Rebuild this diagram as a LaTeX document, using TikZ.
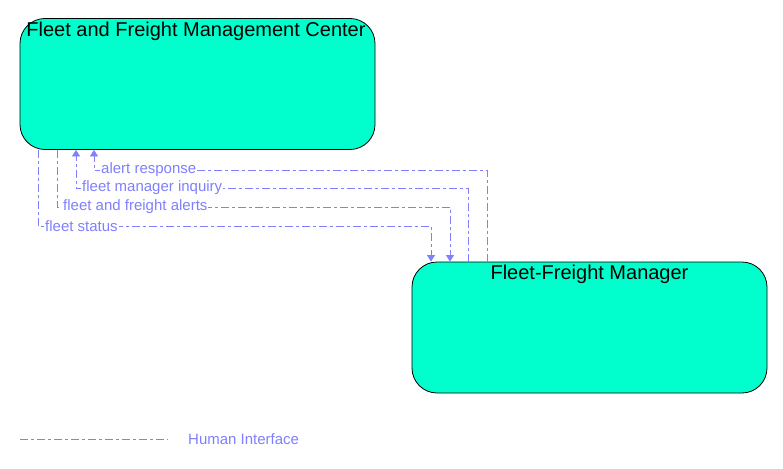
\documentclass[tikz,border=0pt]{standalone}
\usepackage{fontspec}
\setmainfont{Liberation Sans}
\usetikzlibrary{arrows.meta}
\definecolor{boxfill}{RGB}{0,255,204}
\definecolor{flowblue}{RGB}{128,128,255}
\tikzset{
  entity/.style={draw=black, line width=0.8pt, fill=boxfill, rounded corners=25pt,
    minimum width=355pt, minimum height=131pt, inner sep=0pt},
  title/.style={anchor=north, inner sep=0pt, font=\fontsize{20}{24}\selectfont},
  hiflow/.style={draw=flowblue, line width=0.7pt, dash pattern=on 8pt off 3pt on 3pt off 3pt},
  tip/.style={-{Triangle[width=8pt,length=6.5pt]}},
  flowlabel/.style={anchor=west, fill=white, inner sep=1pt, text=flowblue, font=\fontsize{15}{18}\selectfont}
}
\begin{document}
\begin{tikzpicture}[x=1pt,y=-1pt]
\useasboundingbox (0,0) rectangle (783,468);
\node[entity] (fmc) at (197.5,84) {};
\node[title] (fmct) at (196,22) {Fleet and Freight Management Center};
\node[entity] (ffm) at (589.5,327.5) {};
\node[title] (ffmt) at (589.5,265) {Fleet-Freight Manager};
% alert response
\draw[hiflow,tip] (ffm.north -| 487,0) |- (94,170) -- (fmc.south -| 94,0);
\node[flowlabel] (l1) at (100,170) {alert response};
% fleet manager inquiry
\draw[hiflow,tip] (ffm.north -| 468,0) |- (76,188) -- (fmc.south -| 76,0);
\node[flowlabel] (l2) at (81,188) {fleet manager inquiry};
% fleet and freight alerts
\draw[hiflow,tip] (fmc.south -| 57,0) |- (450,207) -- (ffm.north -| 450,0);
\node[flowlabel] (l3) at (62,207) {fleet and freight alerts};
% fleet status
\draw[hiflow,tip] (fmc.south -| 38,0) |- (431,226) -- (ffm.north -| 431,0);
\node[flowlabel] (l4) at (44,226) {fleet status};
% legend
\coordinate (lg1) at (20,439);
\coordinate (lg2) at (168,439);
\draw[hiflow] (lg1) -- (lg2);
\node[flowlabel, fill=none] (lgt) at (187,439) {Human Interface};
\end{tikzpicture}
\end{document}
